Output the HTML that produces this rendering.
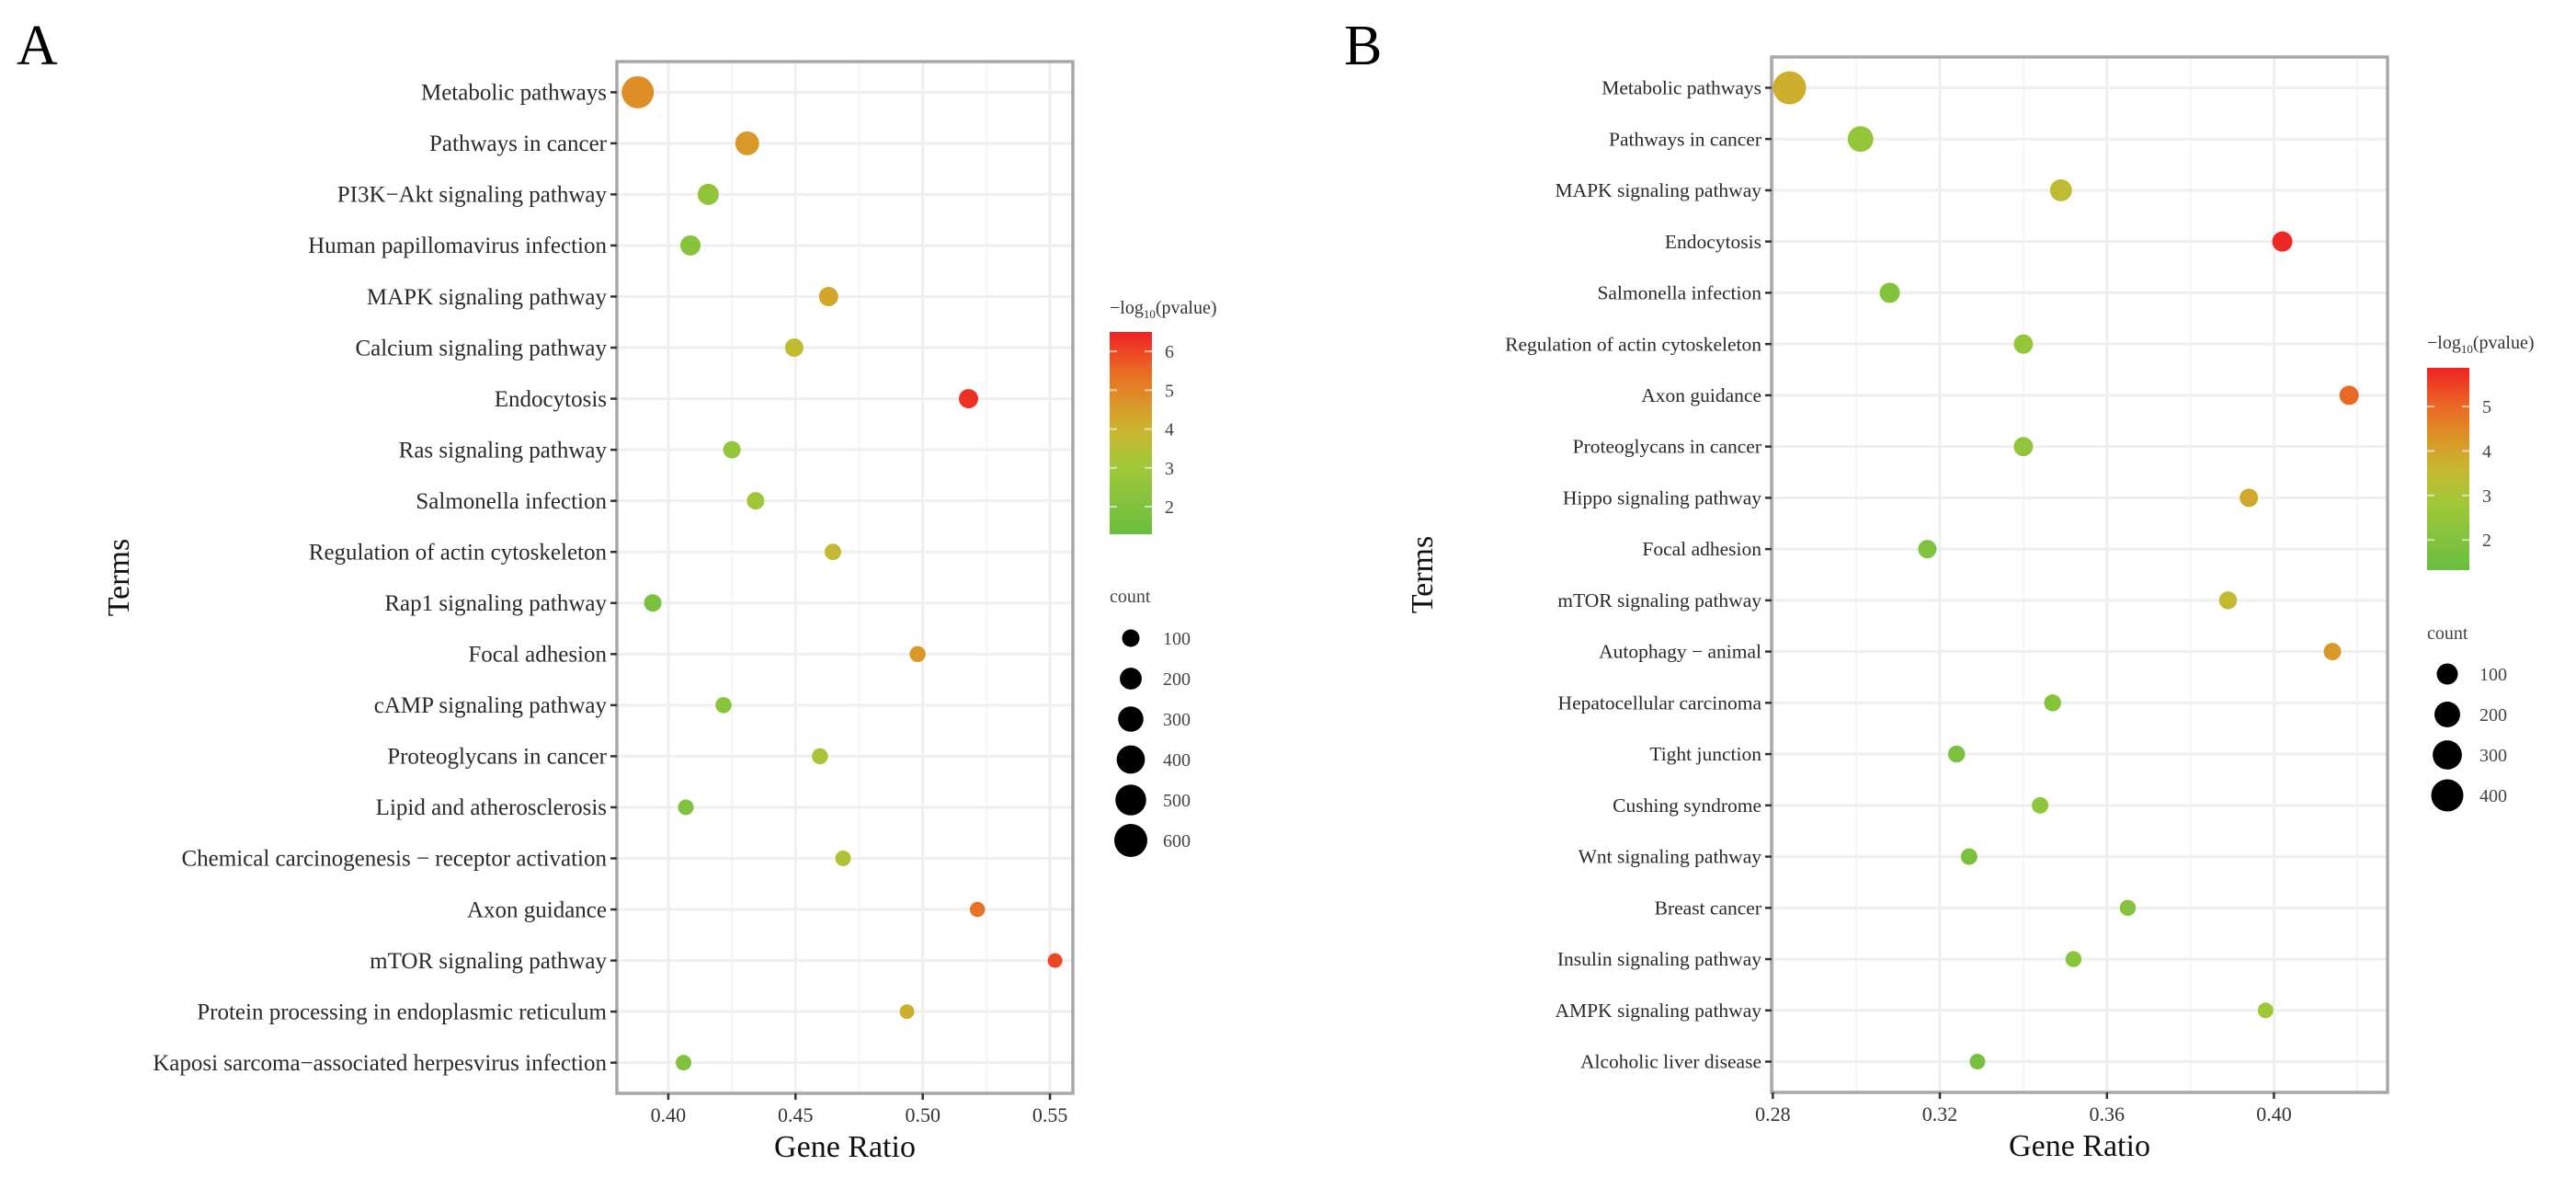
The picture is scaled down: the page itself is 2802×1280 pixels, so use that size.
<!DOCTYPE html>
<html><head><meta charset="utf-8">
<style>
html,body{margin:0;padding:0;background:#fff;}
svg{display:block;font-family:"Liberation Serif",serif;}
</style></head>
<body>
<svg id="fig" width="2802" height="1280" viewBox="0 0 2802 1280" xmlns="http://www.w3.org/2000/svg">
<rect width="2802" height="1280" fill="#fff"/>
</svg>
<script>
// ---------- Panel A data ----------
const termsA = ["Metabolic pathways","Pathways in cancer","PI3K\u2212Akt signaling pathway","Human papillomavirus infection","MAPK signaling pathway","Calcium signaling pathway","Endocytosis","Ras signaling pathway","Salmonella infection","Regulation of actin cytoskeleton","Rap1 signaling pathway","Focal adhesion","cAMP signaling pathway","Proteoglycans in cancer","Lipid and atherosclerosis","Chemical carcinogenesis \u2212 receptor activation","Axon guidance","mTOR signaling pathway","Protein processing in endoplasmic reticulum","Kaposi sarcoma\u2212associated herpesvirus infection"];
const ratioA = [0.388,0.431,0.4157,0.4087,0.463,0.4495,0.518,0.425,0.4343,0.4647,0.3939,0.498,0.4217,0.4596,0.4069,0.4687,0.5215,0.552,0.4938,0.406];
const pvalA = [4.8,4.6,2.5,2.2,4.3,3.7,6.3,2.6,2.9,3.8,1.8,4.6,2.3,3.2,2.0,3.4,5.3,6.0,4.1,2.0];
const countA = [558,255,180,158,137,118,137,100,100,84,100,76,76,76,69,69,62,55,55,69];
const ticksA = [0.40,0.45,0.50,0.55];
const tickLabelsA = ["0.40","0.45","0.50","0.55"];
const colorTicksA = [2,3,4,5,6];
const sizeBreaksA = [100,200,300,400,500,600];

// ---------- Panel B data ----------
const termsB = ["Metabolic pathways","Pathways in cancer","MAPK signaling pathway","Endocytosis","Salmonella infection","Regulation of actin cytoskeleton","Axon guidance","Proteoglycans in cancer","Hippo signaling pathway","Focal adhesion","mTOR signaling pathway","Autophagy \u2212 animal","Hepatocellular carcinoma","Tight junction","Cushing syndrome","Wnt signaling pathway","Breast cancer","Insulin signaling pathway","AMPK signaling pathway","Alcoholic liver disease"];
const ratioB = [0.284,0.301,0.349,0.402,0.308,0.340,0.418,0.340,0.394,0.317,0.389,0.414,0.347,0.324,0.344,0.327,0.365,0.352,0.398,0.329];
const pvalB = [3.8,2.5,3.4,5.8,2.0,2.5,5.0,2.4,3.9,1.9,3.5,4.2,2.1,1.8,2.3,1.8,2.1,2.2,2.8,1.7];
const countB = [434,200,117,84,84,69,69,69,56,56,50,44,39,39,34,34,29,29,25,25];
const ticksB = [0.28,0.32,0.36,0.40];
const tickLabelsB = ["0.28","0.32","0.36","0.40"];
const colorTicksB = [2,3,4,5];
const sizeBreaksB = [100,200,300,400];

const NS="http://www.w3.org/2000/svg";
const svg=document.getElementById('fig');
function mk(tag,attrs,parent){const e=document.createElementNS(NS,tag);for(const k in attrs)e.setAttribute(k,attrs[k]);(parent||svg).appendChild(e);return e;}

const stops=[[0,[106,190,64]],[0.33,[160,200,56]],[0.5,[200,184,48]],[0.63,[216,154,40]],[0.8,[234,108,36]],[1,[238,34,36]]];
function colorAt(t){t=Math.max(0,Math.min(1,t));for(let i=1;i<stops.length;i++){if(t<=stops[i][0]){const a=stops[i-1],b=stops[i];const f=(t-a[0])/(b[0]-a[0]);const c=a[1].map((v,j)=>Math.round(v+(b[1][j]-v)*f));return `rgb(${c[0]},${c[1]},${c[2]})`;}}return 'rgb(238,34,36)';}

function panel(cfg){
  const g=mk('g',{});
  
  
  const {L,R,T,B,xmin,xmax}=cfg;
  const n=cfg.terms.length;
  const step=(B-T)/(n-1+1.2);
  const yOf=i=>T+step*0.6+i*step;
  const xOf=v=>L+(v-xmin)/(xmax-xmin)*(R-L);
  for(let i=0;i<cfg.ticks.length+1;i++){
    const v=cfg.ticks[0]+(i-0.5)*(cfg.ticks[1]-cfg.ticks[0]);
    if(v>xmin&&v<xmax){const l=mk('line',{x1:xOf(v),x2:xOf(v),y1:T,y2:B,stroke:'#f6f7f7','stroke-width':2.5},g);
    }
  }
  cfg.ticks.forEach(v=>{const l=mk('line',{x1:xOf(v),x2:xOf(v),y1:T,y2:B,stroke:'#eef0f0','stroke-width':3},g);
    });
  cfg.terms.forEach((t,i)=>{const l=mk('line',{x1:L,x2:R,y1:yOf(i),y2:yOf(i),stroke:'#eef0f0','stroke-width':3},g);
    });
  const border=mk('rect',{x:L,y:T,width:R-L,height:B-T,fill:'none',stroke:'#a8a8a8','stroke-width':3.5},g);
  
  cfg.terms.forEach((t,i)=>{
    const tk=mk('line',{x1:L-7,x2:L,y1:yOf(i),y2:yOf(i),stroke:'#333','stroke-width':2.5},g);
    
    const tx=mk('text',{x:L-11,y:yOf(i)+cfg.labelSize*0.33,'text-anchor':'end','font-size':cfg.labelSize,fill:'#2a2a2a'},g);
    tx.textContent=t;
    
  });
  cfg.ticks.forEach((v,i)=>{
    const tk=mk('line',{x1:xOf(v),x2:xOf(v),y1:B,y2:B+7,stroke:'#333','stroke-width':2.5},g);
    
    const tx=mk('text',{x:xOf(v),y:B+31,'text-anchor':'middle','font-size':22,fill:'#333'},g);
    tx.textContent=cfg.tickLabels[i];
    
  });
  const xt=mk('text',{x:(L+R)/2,y:B+69,'text-anchor':'middle','font-size':34,fill:'#111'},g);
  xt.textContent='Gene Ratio';
  
  const cy=(T+B)/2;
  const yt=mk('text',{x:cfg.termsX,y:cy,'text-anchor':'middle','font-size':34,fill:'#111',transform:`rotate(-90 ${cfg.termsX} ${cy})`},g);
  yt.textContent='Terms';
  
  const pl=mk('text',{x:cfg.labelX,y:cfg.labelY,'font-size':62,fill:'#000'},g);
  pl.textContent=cfg.letter;
  
  const dia=c=>cfg.sa+cfg.sb*Math.sqrt(c);
  const col=p=>colorAt((p-cfg.pmin)/(cfg.pmax-cfg.pmin));
  cfg.terms.forEach((t,i)=>{
    const c=mk('circle',{cx:xOf(cfg.ratio[i]),cy:yOf(i),r:dia(cfg.count[i])/2,fill:col(cfg.pval[i])},g);
    
  });
  const lg=cfg.leg;
  const lt=mk('text',{x:lg.x,y:lg.titleY,'font-size':20,fill:'#333'},g);
  
  lt.innerHTML='\u2212log<tspan font-size="13" dy="5">10</tspan><tspan dy="-5">(pvalue)</tspan>';
  const gid='grad'+cfg.letter;
  const defs=mk('defs',{},g);
  const lgd=mk('linearGradient',{id:gid,x1:0,y1:1,x2:0,y2:0},defs);
  stops.forEach(s=>mk('stop',{offset:s[0],'stop-color':`rgb(${s[1].join(',')})`},lgd));
  const bar=mk('rect',{x:lg.x,y:lg.barT,width:46,height:lg.barB-lg.barT,fill:`url(#${gid})`},g);
  
  const vy=v=>lg.barB-(v-cfg.pmin)/(cfg.pmax-cfg.pmin)*(lg.barB-lg.barT);
  cfg.colorTicks.forEach(v=>{
    mk('line',{x1:lg.x,x2:lg.x+8,y1:vy(v),y2:vy(v),stroke:'#fff','stroke-width':2,opacity:0.6},g);
    mk('line',{x1:lg.x+38,x2:lg.x+46,y1:vy(v),y2:vy(v),stroke:'#fff','stroke-width':2,opacity:0.6},g);
    const tx=mk('text',{x:lg.x+60,y:vy(v)+7,'font-size':20,fill:'#444'},g);
    tx.textContent=String(v);
    
  });
  const ct=mk('text',{x:lg.x,y:lg.countY,'font-size':20,fill:'#444'},g);
  ct.textContent='count';
  
  cfg.sizeBreaks.forEach((s,i)=>{
    const y=lg.dotY0+i*lg.dotStep;
    const c=mk('circle',{cx:lg.dotX,cy:y,r:dia(s)/2,fill:'#000'},g);
    
    const tx=mk('text',{x:lg.dotX+35,y:y+7,'font-size':20,fill:'#444'},g);
    tx.textContent=String(s);
    
  });
}

panel({name:'panel-a',letter:'A',terms:termsA,ratio:ratioA,pval:pvalA,count:countA,ticks:ticksA,tickLabels:tickLabelsA,
  colorTicks:colorTicksA,sizeBreaks:sizeBreaksA,labelSize:25,
  L:671,R:1167,T:67,B:1189,xmin:0.3798,xmax:0.5590,pmin:1.29,pmax:6.5,sa:7.27,sb:1.173,
  termsX:140,labelX:18,labelY:70,
  leg:{x:1207,titleY:341,barT:361,barB:581,countY:655,dotX:1230,dotY0:694,dotStep:44}});

panel({name:'panel-b',letter:'B',terms:termsB,ratio:ratioB,pval:pvalB,count:countB,ticks:ticksB,tickLabels:tickLabelsB,
  colorTicks:colorTicksB,sizeBreaks:sizeBreaksB,labelSize:21.5,
  L:1927,R:2597,T:62,B:1188,xmin:0.2797,xmax:0.4272,pmin:1.32,pmax:5.87,sa:11,sb:1.2,
  termsX:1558,labelX:1462,labelY:70,
  leg:{x:2640,titleY:379,barT:400,barB:620,countY:695,dotX:2662,dotY0:733,dotStep:44}});
</script>
</body></html>
